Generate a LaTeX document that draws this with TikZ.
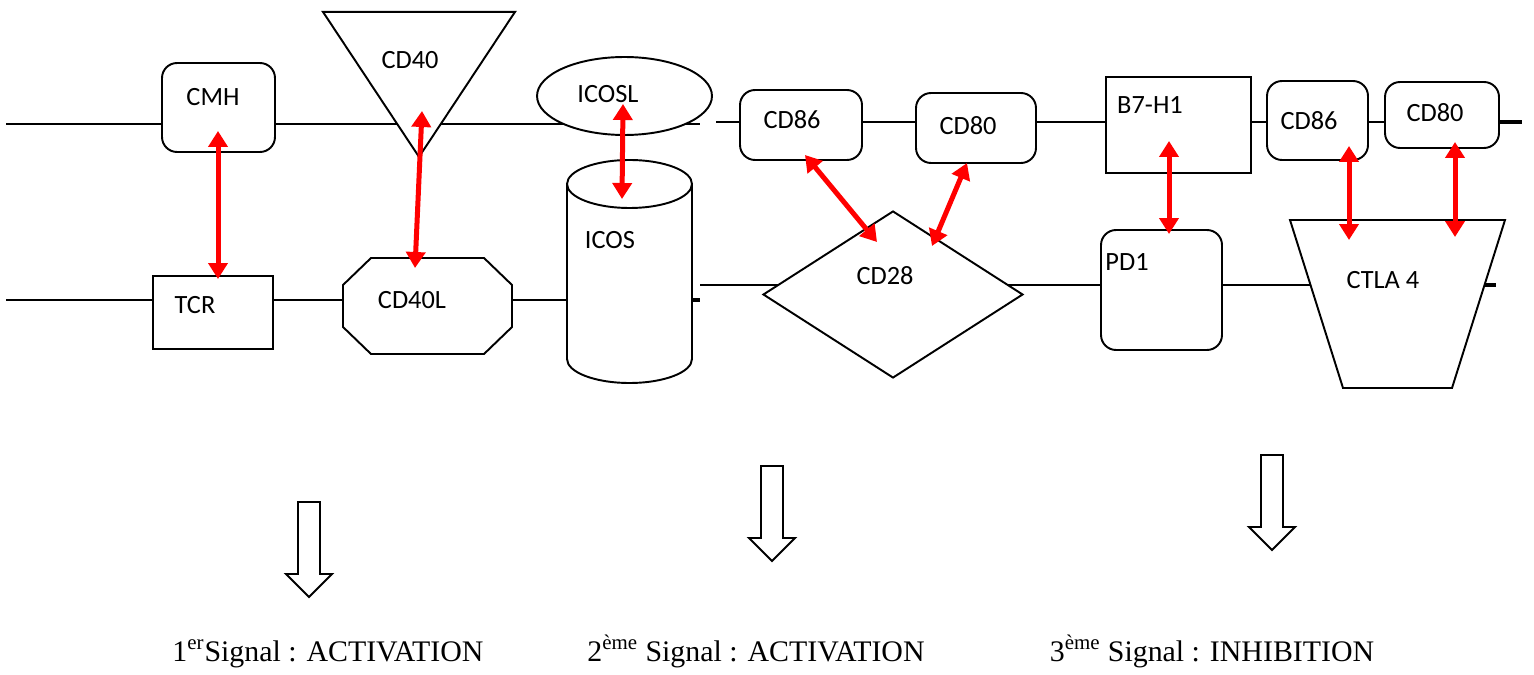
\documentclass[tikz,border=0pt]{standalone}
\usepackage{fontspec}
\setmainfont{Carlito}
\newfontfamily\timesfont{Liberation Serif}
\usetikzlibrary{shapes.geometric,arrows.meta}

\tikzset{
  mol/.style={draw, line width=1.1pt, fill=white, inner sep=0pt},
  rbox/.style={mol, rectangle, rounded corners=0.3cm},
  membrane/.style={line width=1.1pt},
  stub/.style={line width=1.8pt},
  bind/.style={<->, >={Triangle[length=0.32cm,width=0.38cm]}, line width=0.1cm, red},
  lbl/.style={font=\fontsize{15}{18}\selectfont},
  signal/.style={font=\timesfont\fontsize{17}{20}\selectfont, anchor=base},
  hollow/.style={draw, line width=1.1pt}
}

\begin{document}
\begin{tikzpicture}[x=0.02cm, y=-0.02cm]
\useasboundingbox (0,0) rectangle (1534,675);

% membranes
\coordinate (apc-l) at (6,124);
\coordinate (apc-m) at (700,124);
\coordinate (apc-n) at (716,122);
\coordinate (apc-r) at (1499,122);
\coordinate (apc-e) at (1522,122);
\coordinate (lt-l) at (6,300);
\coordinate (lt-m) at (567,300);
\coordinate (lt-s) at (692,300);
\coordinate (lt-n) at (700,300);
\coordinate (lt-o) at (700,285);
\coordinate (lt-r) at (1484,285);
\coordinate (lt-e) at (1496,285);
\draw[membrane] (apc-l) -- (apc-m);
\draw[membrane] (apc-n) -- (apc-r);
\draw[stub] (apc-r) -- (apc-e);
\draw[membrane] (lt-l) -- (lt-m);
\draw[stub] (lt-s) -- (lt-n);
\draw[membrane] (lt-o) -- (lt-r);
\draw[stub] (lt-r) -- (lt-e);

% molecules, top (APC)
\node[rbox, minimum width=2.26cm, minimum height=1.78cm] (cmh) at (218.5,107.5) {};
\node[mol, isosceles triangle, shape border rotate=270, isosceles triangle stretches,
      minimum width=3.84cm, minimum height=2.9cm] (cd40) at (419,63.5) {};
\node[mol, ellipse, minimum width=3.5cm, minimum height=1.56cm] (icosl) at (624.5,96) {};
\node[rbox, minimum width=2.44cm, minimum height=1.4cm] (cd86a) at (801,125) {};
\node[rbox, minimum width=2.4cm, minimum height=1.4cm] (cd80a) at (976,128) {};
\node[mol, rectangle, minimum width=2.9cm, minimum height=1.92cm] (b7h1) at (1178.5,125) {};
\node[rbox, minimum width=2.02cm, minimum height=1.58cm] (cd86b) at (1317.5,120.5) {};
\node[rbox, minimum width=2.28cm, minimum height=1.32cm] (cd80b) at (1442,115) {};

% molecules, bottom (LT)
\node[mol, rectangle, minimum width=2.4cm, minimum height=1.46cm] (tcr) at (213,312.5) {};
% CD40L octagon
\draw[mol] (371,258) -- (484,258) -- (512,285) -- (512,327) -- (484,354)
  -- (371,354) -- (343,327) -- (343,285) -- cycle;
% ICOS cylinder
\draw[mol] (567,184) -- (567,359)
  arc[start angle=180, end angle=360, x radius=1.25cm, y radius=0.48cm]
  -- (692,184)
  arc[start angle=0, end angle=180, x radius=1.25cm, y radius=0.48cm] -- cycle;
\draw[line width=1.1pt] (567,184)
  arc[start angle=180, end angle=360, x radius=1.25cm, y radius=0.48cm];
\node[mol, diamond, minimum width=5.2cm, minimum height=3.34cm] (cd28) at (893,294.5) {};
\node[rbox, minimum width=2.42cm, minimum height=2.4cm] (pd1) at (1161.5,290) {};
% CTLA 4 trapezium
\draw[mol] (1290,220) -- (1505,220) -- (1452,388) -- (1343,388) -- cycle;

% names
\node[lbl] (cmh-t) at (213,97) {CMH};
\node[lbl] (cd40-t) at (410,60) {CD40};
\node[lbl] (icosl-t) at (608,94) {ICOSL};
\node[lbl] (cd86a-t) at (792,120) {CD86};
\node[lbl] (cd80a-t) at (968,126) {CD80};
\node[lbl] (b7h1-t) at (1150,105) {B7-H1};
\node[lbl] (cd86b-t) at (1309,121) {CD86};
\node[lbl] (cd80b-t) at (1435,113) {CD80};
\node[lbl] (tcr-t) at (195,305) {TCR};
\node[lbl] (cd40l-t) at (412,300) {CD40L};
\node[lbl] (icos-t) at (610,240) {ICOS};
\node[lbl] (cd28-t) at (885,276) {CD28};
\node[lbl] (pd1-t) at (1127,262) {PD1};
\node[lbl] (ctla4-t) at (1383,280) {CTLA 4};

% binding arrows
\coordinate (b1a) at (218,131);  \coordinate (b1b) at (218,279);
\coordinate (b2a) at (422,111);  \coordinate (b2b) at (415,268);
\coordinate (b3a) at (623,104);  \coordinate (b3b) at (622,199);
\coordinate (b4a) at (805,155);  \coordinate (b4b) at (877,242);
\coordinate (b5a) at (967,163);  \coordinate (b5b) at (932,246);
\coordinate (b6a) at (1169,141); \coordinate (b6b) at (1169,234);
\coordinate (b7a) at (1349,146); \coordinate (b7b) at (1349,240);
\coordinate (b8a) at (1455,142); \coordinate (b8b) at (1455,237);
\foreach \i in {1,...,8}
  \draw[bind] (b\i a) -- (b\i b);

% signals
\foreach \x/\t in {309/502, 772/466, 1272/455}
  \draw[hollow] (\x-11,\t) -- (\x+11,\t) -- (\x+11,\t+72) -- (\x+23,\t+72)
    -- (\x,\t+95) -- (\x-23,\t+72) -- (\x-11,\t+72) -- cycle;
\node[signal] (sig1) at (328,661) {1\textsuperscript{er}Signal : ACTIVATION};
\node[signal] (sig2) at (756,661) {2\textsuperscript{ème} Signal : ACTIVATION};
\node[signal] (sig3) at (1212,661) {3\textsuperscript{ème} Signal : INHIBITION};
\end{tikzpicture}
\end{document}
